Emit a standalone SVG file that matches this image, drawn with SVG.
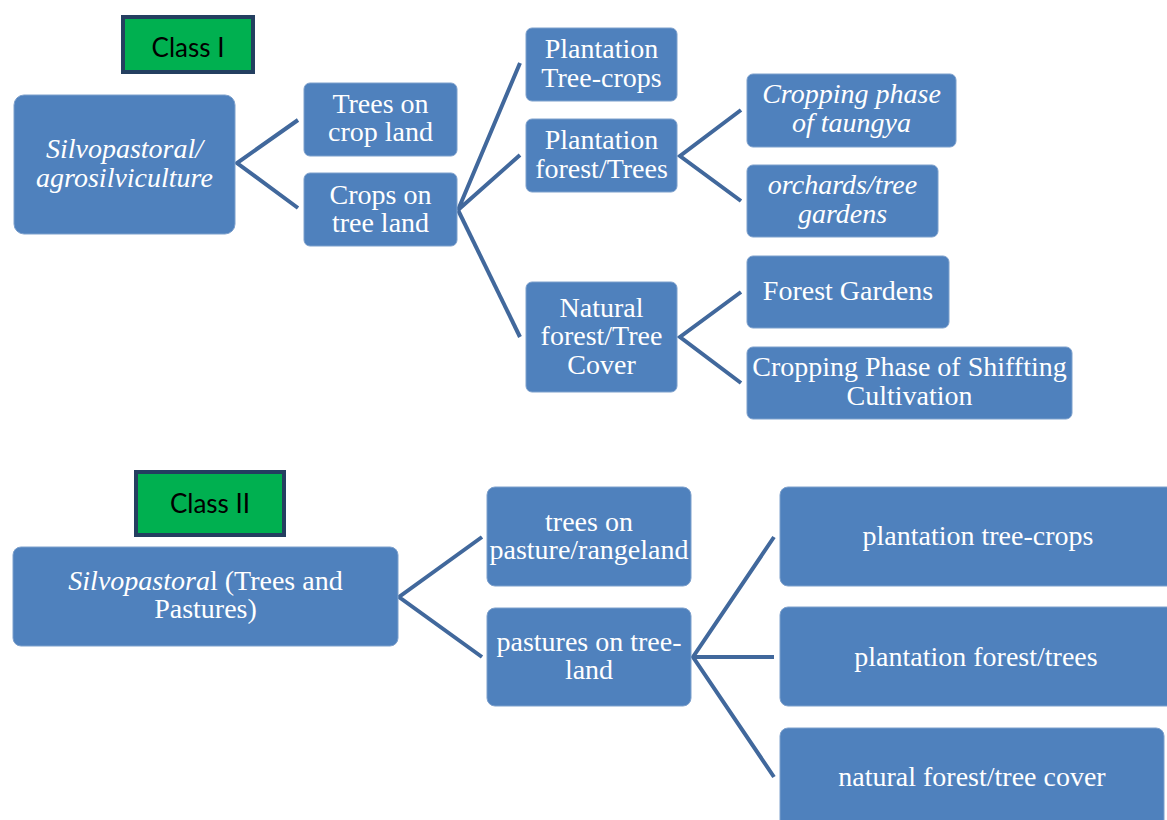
<svg xmlns="http://www.w3.org/2000/svg" width="1167" height="820" viewBox="0 0 1167 820">
<style>
.box{fill:#4F81BD;stroke:#7DA0CC;stroke-width:1}
.cls{fill:#00B050;stroke:#243F60;stroke-width:4}
.t{font-size:28px;fill:#FFFFFF;text-anchor:middle}
.i{font-style:italic}
.c{font-size:26px;fill:#000000;text-anchor:middle}
.conn{fill:none;stroke:#41689C;stroke-width:4;stroke-linejoin:miter}
</style>
<rect width="1167" height="820" fill="#FFFFFF"/>
<g id="connectors">
<polyline class="conn" points="298,120 237,163 298,208"/>
<polyline class="conn" points="520,63 458,210 520,155"/>
<line class="conn" x1="458" y1="210" x2="520" y2="337"/>
<polyline class="conn" points="741,110 680,156 741,201"/>
<polyline class="conn" points="741,292 680,337 741,383"/>
<polyline class="conn" points="482,537 399,597 482,657"/>
<polyline class="conn" points="774,537 693,657 774,777"/>
<line class="conn" x1="693" y1="657" x2="774" y2="657"/>
</g>
<g font-family="Lato, 'Liberation Sans', sans-serif">
<g id="class1">
<rect class="cls" x="123" y="17" width="130" height="55"/>
<text class="c" x="188" y="57">Class I</text>
</g>
<g id="class2">
<rect class="cls" x="136" y="472" width="148" height="63"/>
<text class="c" x="210" y="513">Class II</text>
</g>
</g>
<g font-family="'Liberation Serif', 'Times New Roman', Tinos, serif">
<g id="silvo-agro">
<rect class="box" x="14" y="95" width="221" height="139" rx="10"/>
<text class="t i" x="124.5" y="158">Silvopastoral/</text>
<text class="t i" x="124.5" y="187">agrosilviculture</text>
</g>
<g id="trees-on-crop">
<rect class="box" x="304" y="83" width="153" height="73" rx="6"/>
<text class="t" x="380.5" y="113">Trees on</text>
<text class="t" x="380.5" y="141">crop land</text>
</g>
<g id="crops-on-tree">
<rect class="box" x="304" y="173" width="153" height="73" rx="6"/>
<text class="t" x="380.5" y="204">Crops on</text>
<text class="t" x="380.5" y="232">tree land</text>
</g>
<g id="plantation-tree-crops">
<rect class="box" x="526" y="28" width="151" height="73" rx="6"/>
<text class="t" x="601.5" y="58">Plantation</text>
<text class="t" x="601.5" y="87">Tree-crops</text>
</g>
<g id="plantation-forest">
<rect class="box" x="526" y="119" width="151" height="73" rx="6"/>
<text class="t" x="601.5" y="149">Plantation</text>
<text class="t" x="601.5" y="178">forest/Trees</text>
</g>
<g id="natural-forest">
<rect class="box" x="526" y="282" width="151" height="110" rx="6"/>
<text class="t" x="601.5" y="317">Natural</text>
<text class="t" x="601.5" y="345">forest/Tree</text>
<text class="t" x="601.5" y="374">Cover</text>
</g>
<g id="taungya">
<rect class="box" x="747" y="74" width="209" height="73" rx="6"/>
<text class="t i" x="851.5" y="103">Cropping phase</text>
<text class="t i" x="851.5" y="132">of taungya</text>
</g>
<g id="orchards">
<rect class="box" x="747" y="165" width="191" height="72" rx="6"/>
<text class="t i" x="842.5" y="194">orchards/tree</text>
<text class="t i" x="842.5" y="223">gardens</text>
</g>
<g id="forest-gardens">
<rect class="box" x="747" y="256" width="202" height="72" rx="6"/>
<text class="t" x="848" y="300">Forest Gardens</text>
</g>
<g id="shifting">
<rect class="box" x="747" y="347" width="325" height="72" rx="6"/>
<text class="t" x="909.5" y="376">Cropping Phase of Shiffting</text>
<text class="t" x="909.5" y="405">Cultivation</text>
</g>
<g id="silvopastoral">
<rect class="box" x="13" y="547" width="385" height="99" rx="8"/>
<text class="t" x="205.5" y="590"><tspan class="i">Silvopastora</tspan>l (Trees and</text>
<text class="t" x="205.5" y="618">Pastures)</text>
</g>
<g id="trees-on-pasture">
<rect class="box" x="487" y="487" width="204" height="99" rx="8"/>
<text class="t" x="589" y="531">trees on</text>
<text class="t" x="589" y="559">pasture/rangeland</text>
</g>
<g id="pastures-on-tree">
<rect class="box" x="487" y="608" width="204" height="98" rx="8"/>
<text class="t" x="589" y="651">pastures on tree-</text>
<text class="t" x="589" y="679">land</text>
</g>
<g id="c2-plantation-tree-crops">
<rect class="box" x="780" y="487" width="396" height="99" rx="8"/>
<text class="t" x="978" y="545">plantation tree-crops</text>
</g>
<g id="c2-plantation-forest">
<rect class="box" x="780" y="607" width="396" height="99" rx="8"/>
<text class="t" x="976" y="666">plantation forest/trees</text>
</g>
<g id="c2-natural-forest">
<rect class="box" x="780" y="728" width="384" height="110" rx="8"/>
<text class="t" x="972" y="786">natural forest/tree cover</text>
</g>
</g>
</svg>
